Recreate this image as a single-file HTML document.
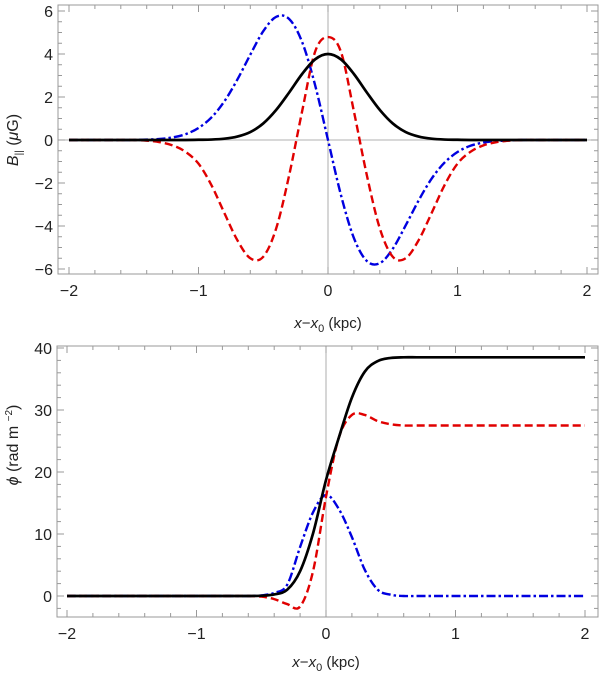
<!DOCTYPE html>
<html><head><meta charset="utf-8"><style>
html,body{margin:0;padding:0;background:#fff;}
svg{display:block;font-family:"Liberation Sans",sans-serif;}
</style></head><body>
<svg id="c" width="600" height="674" viewBox="0 0 600 674"></svg>
<script>
const xs=[-2,-1.9,-1.8,-1.7,-1.6,-1.5,-1.4,-1.3,-1.2,-1.1,-1,-0.9,-0.8,-0.7,-0.6,-0.5,-0.4,-0.3,-0.2,-0.1,0,0.1,0.2,0.3,0.4,0.5,0.6,0.7,0.8,0.9,1,1.1,1.2,1.3,1.4,1.5,1.6,1.7,1.8,1.9,2];
const topBlack=[0,0,0,0,0,0,0,0,0,0,.01,.02,.06,.16,.37,.77,1.40,2.21,3.07,3.75,4,3.75,3.07,2.21,1.40,.77,.37,.16,.06,.02,.01,0,0,0,0,0,0,0,0,0,0];
const topBlue=[0,0,0,0,0,0,.02,.05,.12,.27,.56,1.05,1.80,2.81,3.97,5.06,5.73,5.63,4.56,2.56,0,-2.56,-4.56,-5.63,-5.73,-5.06,-3.97,-2.81,-1.80,-1.05,-.56,-.27,-.12,-.05,-.02,0,0,0,0,0,0];
const topRed=[0,0,0,0,0,0,-.03,-.1,-.25,-.55,-1.1,-2.1,-3.4,-4.66,-5.5,-5.43,-4.11,-1.64,1.33,4.1,4.79,4.1,1.33,-1.64,-4.11,-5.43,-5.5,-4.66,-3.4,-2.1,-1.1,-.55,-.25,-.1,-.03,0,0,0,0,0,0];
const botBlack=[0,0,0,0,0,0,0,0,0,0,0,0,0,0,0,0.05,0.25,1.0,4.0,10.1,18.7,25.6,32.0,36.2,37.9,38.4,38.5,38.5,38.5,38.5,38.5,38.5,38.5,38.5,38.5,38.5,38.5,38.5,38.5,38.5,38.5];
const botRed=[0,0,0,0,0,0,0,0,0,0,0,0,0,0,0,-0.1,-0.5,-1.3,-1.7,4,16,25.6,29.2,29.2,28.2,27.7,27.5,27.5,27.5,27.5,27.5,27.5,27.5,27.5,27.5,27.5,27.5,27.5,27.5,27.5,27.5];
const botBlue=[0,0,0,0,0,0,0,0,0,0,0,0,0,0,0,0.1,0.5,1.8,7.9,13.5,16.3,14,9.5,4.2,1.0,0.2,0,0,0,0,0,0,0,0,0,0,0,0,0,0,0];
const xTicks=[-2,-1,0,1,2];
const topYTicks=[-6,-4,-2,0,2,4,6];
const botYTicks=[0,10,20,30,40];

const NS="http://www.w3.org/2000/svg";
const svg=document.getElementById('c');
function el(t,a,p){const e=document.createElementNS(NS,t);for(const k in a)e.setAttribute(k,a[k]);(p||svg).appendChild(e);return e;}
function fmt(v){return v<0?'\u2212'+(-v):''+v;}

function panel(o){
  const g=el('g',{});
  
  
  const X=v=>o.x0+v*o.kx, Y=v=>o.y0-v*o.ky;
  const fr=el('rect',{x:o.L,y:o.T,width:o.R-o.L,height:o.B-o.T,fill:'none',stroke:'#999','stroke-width':1},g);
  
  
  if(o.hzero){const h=el('line',{x1:o.L,x2:o.R,y1:Y(0),y2:Y(0),stroke:'#999','stroke-width':0.8},g);
    }
  const vz=el('line',{x1:X(0),x2:X(0),y1:o.T,y2:o.B,stroke:'#999','stroke-width':0.8},g);
  
  for(let v=-2;v<=2.001;v+=0.2){const r=Math.round(v*10)/10;const maj=Math.abs(r-Math.round(r))<1e-6;const len=maj?7:4;
    el('line',{x1:X(r),x2:X(r),y1:o.B,y2:o.B-len,stroke:'#999'},g);
    el('line',{x1:X(r),x2:X(r),y1:o.T,y2:o.T+len,stroke:'#999'},g);}
  xTicks.forEach(v=>{const t=el('text',{x:X(v),y:o.B+22,'text-anchor':'middle','font-size':16,fill:'#222'},g);t.textContent=fmt(v);
    });
  const ym=o.yTicks[0],yM=o.yTicks[o.yTicks.length-1];
  for(let v=ym-o.ymin*3;v<=yM+o.ymin*3+1e-6;v+=o.ymin){const r=Math.round(v*100)/100;const y=Y(r);if(y<o.T-0.5||y>o.B+0.5)continue;
    const maj=o.yTicks.includes(r);const len=maj?7:4;
    el('line',{x1:o.L,x2:o.L+len,y1:y,y2:y,stroke:'#999'},g);
    el('line',{x1:o.R,x2:o.R-len,y1:y,y2:y,stroke:'#999'},g);}
  o.yTicks.forEach(v=>{const t=el('text',{x:o.L-5,y:Y(v)+6,'text-anchor':'end','font-size':16,fill:'#222'},g);t.textContent=fmt(v);
    });
  o.series.forEach(s=>{
    const P=xs.map((x,i)=>[X(x),Y(s.d[i])]);
    let d='M'+P[0][0]+','+P[0][1];
    for(let i=0;i<P.length-1;i++){const p0=P[Math.max(0,i-1)],p1=P[i],p2=P[i+1],p3=P[Math.min(P.length-1,i+2)];
      d+=' C'+(p1[0]+(p2[0]-p0[0])/6)+','+(p1[1]+(p2[1]-p0[1])/6)+' '+(p2[0]-(p3[0]-p1[0])/6)+','+(p2[1]-(p3[1]-p1[1])/6)+' '+p2[0]+','+p2[1];}
    const a={d:d,fill:'none',stroke:s.c,'stroke-width':s.w,'stroke-linejoin':'round'};if(s.dash)a['stroke-dasharray']=s.dash;
    const p=el('path',a,g);
    
    
  });
  return g;
}

panel({name:'top-panel',L:58,R:598,T:5,B:274,x0:328,kx:129.5,y0:140,ky:21.5,yTicks:topYTicks,ymin:0.5,hzero:true,
  series:[{d:topBlue,c:'#0000e0',w:2.4,dash:'9,3,2.5,3',name:'top-blue-series'},{d:topRed,c:'#e00000',w:2.4,dash:'8,4',name:'top-red-series'},{d:topBlack,c:'#000',w:2.7,name:'top-black-series'}]});
panel({name:'bottom-panel',L:57,R:598,T:346,B:617,x0:326,kx:129.5,y0:596,ky:6.2,yTicks:botYTicks,ymin:2,hzero:false,
  series:[{d:botBlue,c:'#0000e0',w:2.4,dash:'9,3,2.5,3',name:'bottom-blue-series'},{d:botRed,c:'#e00000',w:2.4,dash:'8,4',name:'bottom-red-series'},{d:botBlack,c:'#000',w:2.7,name:'bottom-black-series'}]});
</script>
<svg style="position:absolute;left:0;top:0" width="600" height="674">
<text x="328" y="328" text-anchor="middle" font-size="15" font-family="Liberation Sans,sans-serif" fill="#222"><tspan font-style="italic">x</tspan>−<tspan font-style="italic">x</tspan><tspan font-size="11" dy="4">0</tspan><tspan dy="-4">  (kpc)</tspan></text>
<text x="326" y="667" text-anchor="middle" font-size="15" font-family="Liberation Sans,sans-serif" fill="#222"><tspan font-style="italic">x</tspan>−<tspan font-style="italic">x</tspan><tspan font-size="11" dy="4">0</tspan><tspan dy="-4"> (kpc)</tspan></text>
<text transform="translate(18,140) rotate(-90)" text-anchor="middle" font-size="16" font-family="Liberation Sans,sans-serif" fill="#222"><tspan font-style="italic">B</tspan><tspan font-size="10" dy="4">||</tspan><tspan dy="-4">  (</tspan><tspan font-style="italic">μ</tspan>G)</text>
<text transform="translate(18,445) rotate(-90)" text-anchor="middle" font-size="16" font-family="Liberation Sans,sans-serif" fill="#222"><tspan font-style="italic">ϕ</tspan> (rad m <tspan font-size="10" dy="-6">−2</tspan><tspan dy="6">)</tspan></text>
</svg>
</body></html>
